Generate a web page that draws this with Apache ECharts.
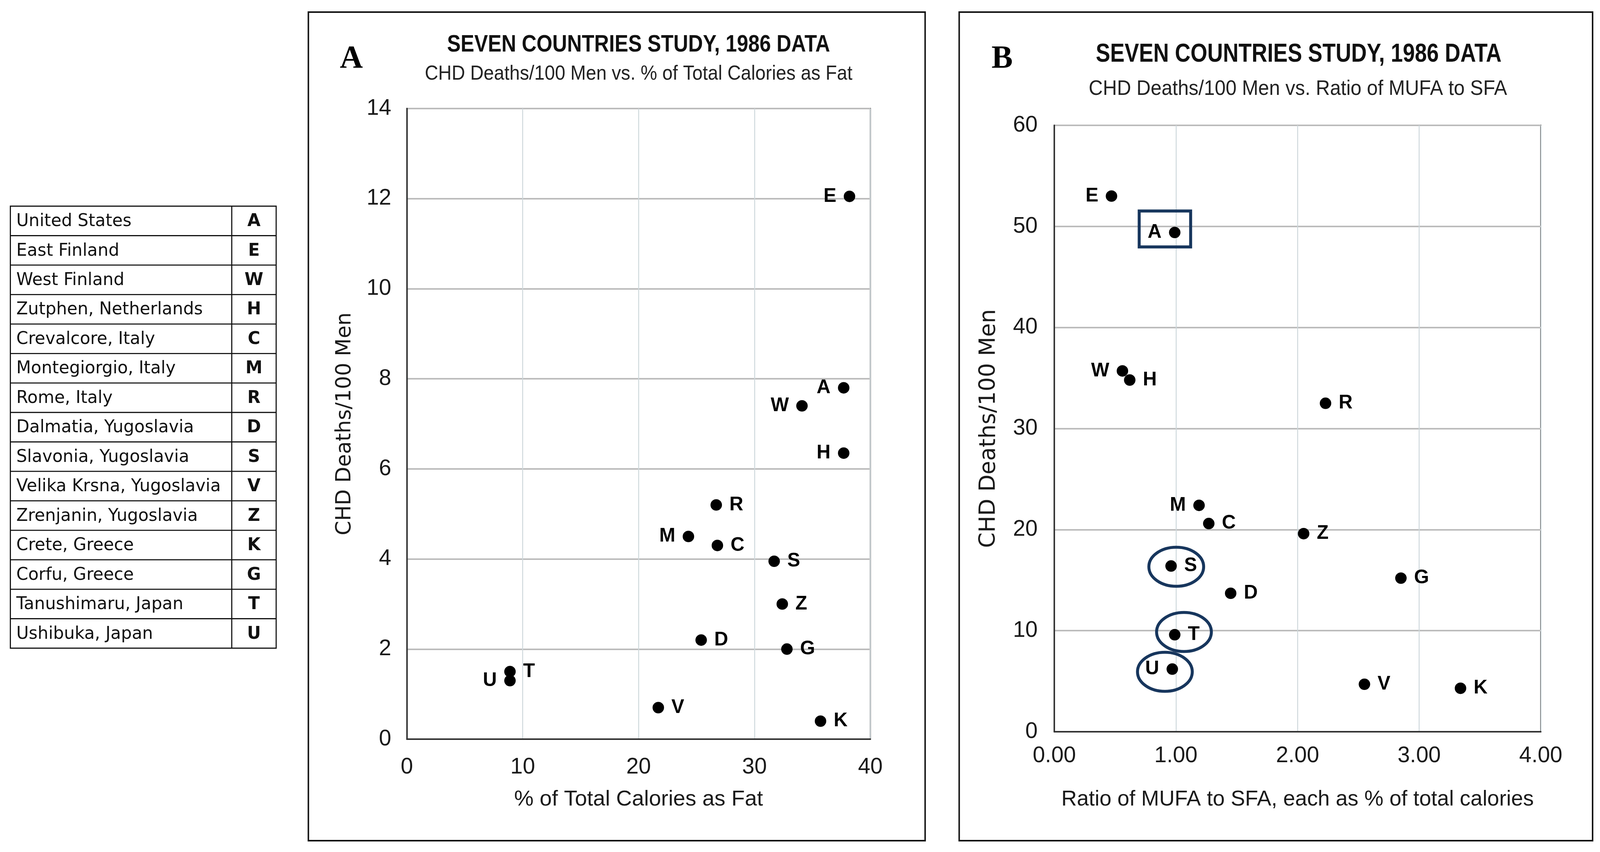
<!DOCTYPE html>
<html><head><meta charset="utf-8">
<script src="https://cdn.jsdelivr.net/npm/echarts@6/dist/echarts.min.js"></script>
<style>html,body{margin:0;padding:0;background:#fff;overflow:hidden}#c{width:100vw;height:100vh}</style>
</head><body><div id="c"></div>
<script>
// ---- data ----
const codes  = ['A','E','W','H','C','M','R','D','S','V','Z','K','G','T','U'];
const places = ['United States','East Finland','West Finland','Zutphen, Netherlands','Crevalcore, Italy',
  'Montegiorgio, Italy','Rome, Italy','Dalmatia, Yugoslavia','Slavonia, Yugoslavia','Velika Krsna, Yugoslavia',
  'Zrenjanin, Yugoslavia','Crete, Greece','Corfu, Greece','Tanushimaru, Japan','Ushibuka, Japan'];
const fatPct   = [37.7, 38.2, 34.1, 37.7, 26.8, 24.3, 26.7, 25.4, 31.7, 21.7, 32.4, 35.7, 32.8, 8.9, 8.9];
const chdA     = [7.8, 12.05, 7.4, 6.35, 4.3, 4.5, 5.2, 2.2, 3.95, 0.7, 3.0, 0.4, 2.0, 1.5, 1.3];
const mufaSfa  = [0.99, 0.47, 0.56, 0.62, 1.27, 1.19, 2.23, 1.45, 0.96, 2.55, 2.05, 3.34, 2.85, 0.99, 0.97];
const chdB     = [49.4, 53.0, 35.7, 34.8, 20.6, 22.4, 32.5, 13.7, 16.4, 4.7, 19.6, 4.3, 15.2, 9.6, 6.2];
const xTicksA = [0, 10, 20, 30, 40];
const yTicksA = [0, 2, 4, 6, 8, 10, 12, 14];
const xTicksB = ['0.00', '1.00', '2.00', '3.00', '4.00'];
const yTicksB = [0, 10, 20, 30, 40, 50, 60];
const titleText = 'SEVEN COUNTRIES STUDY, 1986 DATA';
const subA = 'CHD Deaths/100 Men vs. % of Total Calories as Fat';
const subB = 'CHD Deaths/100 Men vs. Ratio of MUFA to SFA';
const yName = 'CHD Deaths/100 Men';
const xNameA = '% of Total Calories as Fat';
const xNameB = 'Ratio of MUFA to SFA, each as % of total calories';

// ---- styling config (not data) ----
const leftA = ['E','A','W','H','M','U'];
const leftB = ['E','A','W','M','U'];
const boxed = ['A'];
const circled = ['S','T','U'];
const NAVY = '#17365d';
const SANS = '"Liberation Sans", Arial, sans-serif';
const WIDE = '"DejaVu Sans", sans-serif';

// scale the 4322x2182 design to the actual viewport
const W = window.innerWidth || 4322, H = window.innerHeight || 2182;
const sx = W / 4322, sy = H / 2182, s = Math.min(sx, sy);
const X = v => v * sx, Y = v => v * sy, F = v => v * s;

const chart = echarts.init(document.getElementById('c'), null, {renderer: 'canvas', width: W, height: H});

function pts(xs, ys, leftSet) {
  return codes.map((c, i) => ({
    name: c, value: [xs[i], ys[i]],
    label: {position: leftSet.includes(c) ? 'left' : 'right'}
  }));
}
const xB = xTicksB.map(Number);

function axisCommon() {
  return {
    axisLine: {show: true, onZero: false, lineStyle: {color: '#333', width: F(4)}},
    axisTick: {show: false},
  };
}
const labelStyle = {show: true, formatter: '{b}', distance: F(20), color: '#000',
  fontFamily: SANS, fontWeight: 'bold', fontSize: F(52)};
const tickFont = {fontFamily: SANS, fontSize: F(60), color: '#1a1a1a'};

const option = {
  backgroundColor: '#fff',
  animation: false,
  grid: [
    {left: X(1099), top: Y(278), width: X(1252), height: Y(1615), show: true, borderColor: '#222', borderWidth: F(3)},
    {left: X(2848), top: Y(321), width: X(1314), height: Y(1553), show: true, borderColor: '#222', borderWidth: F(3)}
  ],
  xAxis: [
    Object.assign(axisCommon(), {
      gridIndex: 0, type: 'value', min: xTicksA[0], max: xTicksA[xTicksA.length - 1],
      interval: xTicksA[1] - xTicksA[0],
      splitLine: {show: true, lineStyle: {color: '#cdd7db', width: F(2.5)}},
      axisLabel: Object.assign({margin: F(46)}, tickFont),
      name: xNameA, nameLocation: 'middle', nameGap: F(134),
      nameTextStyle: {fontFamily: SANS, fontSize: F(59), color: '#1a1a1a'}
    }),
    Object.assign(axisCommon(), {
      gridIndex: 1, type: 'value', min: xB[0], max: xB[xB.length - 1], interval: xB[1] - xB[0],
      splitLine: {show: true, lineStyle: {color: '#cdd7db', width: F(2.5)}},
      axisLabel: Object.assign({margin: F(36),
        formatter: v => xTicksB[xB.indexOf(v)]}, tickFont),
      name: xNameB, nameLocation: 'middle', nameGap: F(154),
      nameTextStyle: {fontFamily: SANS, fontSize: F(58), color: '#1a1a1a'}
    })
  ],
  yAxis: [
    Object.assign(axisCommon(), {
      gridIndex: 0, type: 'value', min: yTicksA[0], max: yTicksA[yTicksA.length - 1],
      interval: yTicksA[1] - yTicksA[0],
      splitLine: {show: true, lineStyle: {color: '#bcbcbc', width: F(4)}},
      axisLabel: Object.assign({margin: F(42)}, tickFont),
      name: yName, nameLocation: 'middle', nameGap: F(139),
      nameTextStyle: {fontFamily: WIDE, fontSize: F(56), color: '#1a1a1a'}
    }),
    Object.assign(axisCommon(), {
      gridIndex: 1, type: 'value', min: yTicksB[0], max: yTicksB[yTicksB.length - 1],
      interval: yTicksB[1] - yTicksB[0],
      splitLine: {show: true, lineStyle: {color: '#bcbcbc', width: F(4)}},
      axisLabel: Object.assign({margin: F(45)}, tickFont),
      name: yName, nameLocation: 'middle', nameGap: F(146),
      nameTextStyle: {fontFamily: WIDE, fontSize: F(60), color: '#1a1a1a'}
    })
  ],
  series: [
    {type: 'scatter', xAxisIndex: 0, yAxisIndex: 0, symbolSize: F(31),
      itemStyle: {color: '#000', opacity: 1}, label: labelStyle, data: pts(fatPct, chdA, leftA)},
    {type: 'scatter', xAxisIndex: 1, yAxisIndex: 1, symbolSize: F(31),
      itemStyle: {color: '#000', opacity: 1}, label: labelStyle, data: pts(mufaSfa, chdB, leftB)}
  ]
};
chart.setOption(option);

// ---- graphics: frames, titles, table, annotations ----
const g = [];
function txt(text, x, y, size, opts, scaleX) {
  g.push({type: 'text', x: X(x), y: Y(y), scaleX: scaleX || 1, z: 10, silent: true, style: Object.assign({
    text: text, x: 0, y: 0, fontSize: F(size), fontFamily: SANS, fill: '#111',
    textAlign: 'center', textVerticalAlign: 'middle'}, opts || {})});
}
function rect(x, y, w, h, stroke, lw) {
  g.push({type: 'rect', silent: true, z: 5, shape: {x: X(x), y: Y(y), width: X(w), height: Y(h)},
    style: {fill: 'none', stroke: stroke, lineWidth: F(lw)}});
}
function line(x1, y1, x2, y2, lw) {
  g.push({type: 'line', silent: true, z: 5, shape: {x1: X(x1), y1: Y(y1), x2: X(x2), y2: Y(y2)},
    style: {stroke: '#111', lineWidth: F(lw)}});
}
// panel frames
rect(833, 31, 1666, 2122, '#111', 4);
rect(2591, 31, 1711, 2122, '#111', 4);
// panel letters
txt('A', 949, 152, 86, {fontFamily: '"Liberation Serif", serif', fontWeight: 'bold', fill: '#000'});
txt('B', 2707, 152, 86, {fontFamily: '"Liberation Serif", serif', fontWeight: 'bold', fill: '#000'});
// titles (condensed look via horizontal scaling)
txt(titleText, 1725, 115, 64, {fontWeight: 'bold'}, 0.86);
txt(subA, 1725, 190, 54, {fill: '#222'}, 0.93);
txt(titleText, 3508, 140, 70, {fontWeight: 'bold'}, 0.833);
txt(subB, 3506, 228, 57, {fill: '#222'}, 0.927);

// table
const tX0 = 28, tX1 = 746, tXd = 626, tY0 = 528, tY1 = 1660;
const rowH = (tY1 - tY0) / places.length;
rect(tX0, tY0, tX1 - tX0, tY1 - tY0, '#111', 3);
line(tXd, tY0, tXd, tY1, 3);
places.forEach((p, i) => {
  const yc = tY0 + rowH * (i + 0.5);
  if (i > 0) line(tX0, tY0 + rowH * i, tX1, tY0 + rowH * i, 3);
  txt(p, tX0 + 16, yc + 2, 46, {fontFamily: WIDE, textAlign: 'left', fill: '#111'});
  txt(codes[i], (tXd + tX1) / 2, yc + 2, 46, {fontFamily: WIDE, fontWeight: 'bold', fill: '#111'});
});

// annotations in panel B, anchored to data points
codes.forEach((c, i) => {
  const p = chart.convertToPixel({xAxisIndex: 1, yAxisIndex: 1}, [mufaSfa[i], chdB[i]]);
  if (boxed.includes(c)) {
    g.push({type: 'rect', z: 20, silent: true,
      shape: {x: p[0] - X(96), y: p[1] - Y(55), width: X(139), height: Y(92)},
      style: {fill: 'none', stroke: NAVY, lineWidth: F(8)}});
  }
  if (circled.includes(c)) {
    const off = {S: [14, 2], T: [25, -7], U: [-20, 7]}[c];
    g.push({type: 'ellipse', z: 20, silent: true,
      shape: {cx: p[0] + X(off[0]), cy: p[1] + Y(off[1]), rx: X(74), ry: Y(50)},
      style: {fill: 'none', stroke: NAVY, lineWidth: F(8)}});
  }
});
chart.setOption({graphic: g});
</script></body></html>
